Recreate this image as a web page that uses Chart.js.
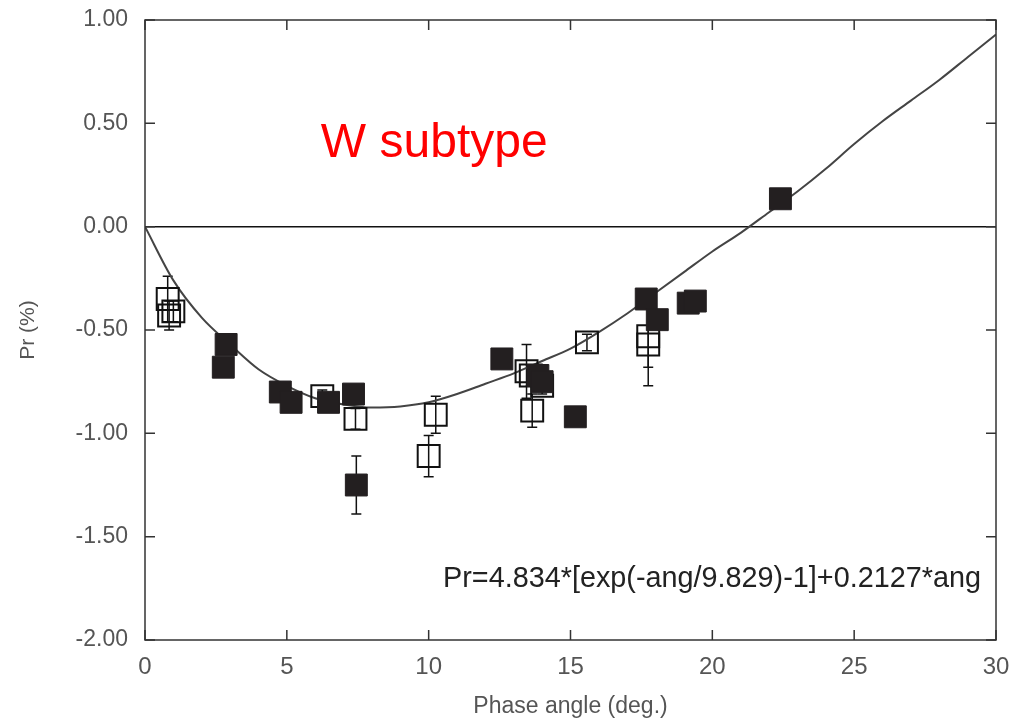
<!DOCTYPE html>
<html>
<head>
<meta charset="utf-8">
<script src="https://cdn.jsdelivr.net/npm/chart.js@4.4.1/dist/chart.umd.min.js"></script>
<style>
  html, body { margin: 0; padding: 0; background: #fff; }
  #wrap { width: 1014px; height: 720px; position: relative; }
</style>
</head>
<body>
<div id="wrap"><canvas id="polChart"></canvas></div>
<script>
// open squares (with error bars)
const openAng = [0.80, 0.85, 1.00, 6.25, 7.42, 10.00, 10.25, 13.45, 13.60, 14.00, 13.65, 15.58, 17.74, 17.74];
const openPr  = [-0.35, -0.43, -0.41, -0.82, -0.93, -1.11, -0.91, -0.70, -0.72, -0.77, -0.89, -0.56, -0.53, -0.57];
const openErr = [0.11, 0.07, 0.05, 0.03, 0.05, 0.10, 0.09, 0.13, 0.05, 0.04, 0.08, 0.04, 0.15, 0.20];

// filled squares
const fillAng = [2.86, 2.76, 4.77, 5.15, 6.47, 7.35, 7.45, 12.58, 13.85, 14.00, 15.17, 17.67, 18.06, 19.15, 19.40, 22.40];
const fillPr  = [-0.57, -0.68, -0.80, -0.85, -0.85, -0.81, -1.25, -0.64, -0.72, -0.75, -0.92, -0.35, -0.45, -0.37, -0.36, 0.135];
const fillErr = [0.03, 0.03, 0.03, 0.03, 0.03, 0.03, 0.14, 0.03, 0.03, 0.03, 0.03, 0.03, 0.03, 0.03, 0.03, 0.03];

// fitted curve
const curveAng = [0, 1, 2, 3, 4, 5, 6, 7, 8, 9, 10, 11, 12, 13, 14, 15, 16, 17, 18, 19, 20, 21, 22, 23, 24, 25, 26, 27, 28, 29, 30];
const curvePr  = [0, -0.26, -0.44, -0.57, -0.69, -0.77, -0.83, -0.86, -0.875, -0.87, -0.85, -0.81, -0.76, -0.71, -0.65, -0.59, -0.51, -0.42, -0.32, -0.22, -0.12, -0.03, 0.07, 0.17, 0.28, 0.40, 0.51, 0.61, 0.71, 0.82, 0.93];

const xTicks = [0, 5, 10, 15, 20, 25, 30];
const yTicks = [1.0, 0.5, 0.0, -0.5, -1.0, -1.5, -2.0];

const FONT = '"Liberation Sans", Arial, sans-serif';
const toPts = (xs, ys) => xs.map((x, i) => ({ x: x, y: ys[i] }));

// keep tick-label overflow from pushing the plot area around
const noOverflow = s => { s.paddingTop = 0; s.paddingBottom = 0; s.paddingLeft = 0; s.paddingRight = 0; };

const frameAndExtras = {
  id: 'frameAndExtras',
  beforeDatasetsDraw(chart) {
    const { ctx, chartArea: a, scales: { x, y } } = chart;
    ctx.save();
    // zero line
    ctx.strokeStyle = '#111';
    ctx.lineWidth = 1.5;
    ctx.beginPath();
    ctx.moveTo(a.left, y.getPixelForValue(0));
    ctx.lineTo(a.right, y.getPixelForValue(0));
    ctx.stroke();
    // error bars
    const bars = (xs, ys, es) => {
      xs.forEach((v, i) => {
        const px = x.getPixelForValue(v);
        const top = y.getPixelForValue(ys[i] + es[i]);
        const bot = y.getPixelForValue(ys[i] - es[i]);
        ctx.beginPath();
        ctx.moveTo(px, top); ctx.lineTo(px, bot);
        ctx.moveTo(px - 5, top); ctx.lineTo(px + 5, top);
        ctx.moveTo(px - 5, bot); ctx.lineTo(px + 5, bot);
        ctx.stroke();
      });
    };
    bars(openAng, openPr, openErr);
    bars(fillAng, fillPr, fillErr);
    ctx.restore();
  },
  afterDraw(chart) {
    const { ctx, chartArea: a, scales: { x, y } } = chart;
    ctx.save();
    ctx.strokeStyle = '#333';
    ctx.lineWidth = 1.5;
    ctx.strokeRect(a.left, a.top, a.right - a.left, a.bottom - a.top);
    // inward ticks on all four sides
    const len = 10;
    ctx.beginPath();
    xTicks.forEach(v => {
      const px = x.getPixelForValue(v);
      ctx.moveTo(px, a.bottom); ctx.lineTo(px, a.bottom - len);
      ctx.moveTo(px, a.top); ctx.lineTo(px, a.top + len);
    });
    yTicks.forEach(v => {
      const py = y.getPixelForValue(v);
      ctx.moveTo(a.left, py); ctx.lineTo(a.left + len, py);
      ctx.moveTo(a.right, py); ctx.lineTo(a.right - len, py);
    });
    ctx.stroke();
    // labels
    ctx.fillStyle = '#ff0000';
    ctx.font = '48px ' + FONT;
    ctx.textAlign = 'left';
    ctx.textBaseline = 'alphabetic';
    ctx.fillText('W subtype', x.getPixelForValue(6.2), y.getPixelForValue(0.335));
    ctx.fillStyle = '#222';
    ctx.font = '28.8px ' + FONT;
    ctx.textAlign = 'right';
    ctx.fillText('Pr=4.834*[exp(-ang/9.829)-1]+0.2127*ang', x.getPixelForValue(29.47), y.getPixelForValue(-1.745));
    ctx.restore();
  }
};

new Chart(document.getElementById('polChart'), {
  type: 'scatter',
  data: {
    datasets: [
      {
        label: 'fit',
        type: 'line',
        data: toPts(curveAng, curvePr),
        borderColor: '#444',
        borderWidth: 2,
        pointRadius: 0,
        cubicInterpolationMode: 'monotone',
        fill: false,
        order: 3
      },
      {
        label: 'open',
        data: toPts(openAng, openPr),
        pointStyle: 'rect',
        pointRadius: 15.5,
        pointHoverRadius: 15.5,
        backgroundColor: 'rgba(0,0,0,0)',
        borderColor: '#111',
        borderWidth: 2,
        order: 2
      },
      {
        label: 'filled',
        data: toPts(fillAng, fillPr),
        pointStyle: 'rect',
        pointRadius: 15.5,
        pointHoverRadius: 15.5,
        backgroundColor: '#231f20',
        borderColor: '#231f20',
        borderWidth: 1,
        order: 1
      }
    ]
  },
  options: {
    responsive: true,
    maintainAspectRatio: false,
    animation: false,
    layout: { padding: { top: 20, right: 18, left: 0, bottom: 0 } },
    plugins: { legend: { display: false }, tooltip: { enabled: false } },
    scales: {
      x: {
        type: 'linear',
        min: 0, max: 30,
        afterFit: s => { s.height = 80; noOverflow(s); },
        afterBuildTicks: s => { s.ticks = xTicks.map(v => ({ value: v })); },
        grid: { display: false, drawTicks: false },
        border: { display: false },
        ticks: { padding: 13, color: '#555', font: { size: 24, family: FONT } },
        title: { display: true, text: 'Phase angle (deg.)', color: '#555', padding: { bottom: 0 }, font: { size: 23, family: FONT } }
      },
      y: {
        type: 'linear',
        min: -2, max: 1,
        afterFit: s => { s.width = 145; noOverflow(s); },
        afterBuildTicks: s => { s.ticks = yTicks.map(v => ({ value: v })); },
        grid: { display: false, drawTicks: false },
        border: { display: false },
        ticks: { padding: 17, color: '#555', callback: v => v.toFixed(2), font: { size: 23, family: FONT } },
        title: { display: true, text: 'Pr (%)', color: '#555', padding: { top: 16 }, font: { size: 21, family: FONT } }
      }
    }
  },
  plugins: [frameAndExtras]
});
</script>
</body>
</html>
